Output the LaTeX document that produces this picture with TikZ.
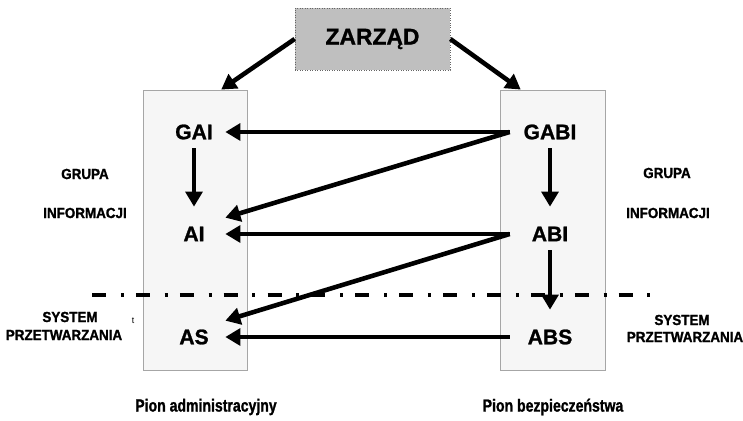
\documentclass[tikz,border=0pt]{standalone}
\usepackage{fontspec}
\setmainfont{Liberation Sans}[BoldFeatures={FakeBold=1.2}]
\newfontfamily\narrowfont[FakeStretch=0.8, FakeBold=1.2]{Liberation Sans Bold}
\newfontfamily\sidefont[FakeStretch=0.92, FakeBold=1.4]{Liberation Sans Bold}
\usetikzlibrary{arrows.meta,calc}

\begin{document}
\begin{tikzpicture}[
        x=0.02cm, y=-0.02cm,
        line cap=butt,
        line join=miter,
        arr/.style={line width=2.6pt, -{Triangle[length=8.5pt,width=9.5pt]}},
        pion/.style={draw=gray!70, fill=gray!7, line width=0.5pt, minimum width=2.08cm, minimum height=5.6cm, inner sep=0pt},
        lnode/.style={font=\fontsize{12}{14}\selectfont\bfseries, minimum width=1.24cm, minimum height=0.64cm, inner sep=0pt},
        rnode/.style={font=\fontsize{12}{14}\selectfont\bfseries, minimum width=1.6cm, minimum height=0.64cm, inner sep=0pt},
        side/.style={font=\fontsize{8.3}{9}\sidefont, inner sep=0pt},
        bottom/.style={font=\fontsize{10}{12}\narrowfont, inner sep=0pt}
    ]
        \useasboundingbox (0,0) rectangle (743,421);

        % boxes
        \node[draw=black!60, densely dotted, fill=black!25, minimum width=3.1cm, minimum height=1.24cm,
              font=\fontsize{13}{15}\selectfont\bfseries] (zarzad) at (372.5,39) {ZARZĄD};
        \node[pion] (adm) at (195,230) {};
        \node[pion, minimum width=2.1cm] (bez) at (552.5,230) {};

        % levels
        \node[lnode] (gai) at (194,132) {GAI};
        \node[lnode] (ai) at (194,234) {AI};
        \node[lnode] (as) at (194,337) {AS};

        \node[rnode] (gabi) at (550,132) {GABI};
        \node[rnode] (abi) at (550,234) {ABI};
        \node[rnode] (abs) at (550,337) {ABS};

        % side labels
        \node[side] (grl) at (85,174) {GRUPA};
        \node[side] (inl) at (85,213) {INFORMACJI};
        \node[side] (syl) at (70,317) {SYSTEM};
        \node[side] (prl) at (64,335) {PRZETWARZANIA};
        \node[font=\fontsize{5}{6}\selectfont, inner sep=0pt] (tl) at (133,321) {t};

        \node[side] (grr) at (667,173) {GRUPA};
        \node[side] (inr) at (668,213) {INFORMACJI};
        \node[side] (syr) at (682,320) {SYSTEM};
        \node[side] (prr) at (685,337) {PRZETWARZANIA};

        \node[bottom] (padm) at (206,407) {Pion administracyjny};
        \node[bottom] (pbez) at (553,407) {Pion bezpieczeństwa};

        % separator
        \draw[line width=2pt, dash pattern=on 7.97pt off 8.4pt on 1.71pt off 6.9pt] (92,295) -- (656,295);

        % connectors
        \draw[arr] (zarzad.west) -- ($(adm.north)!0.5!(adm.north east)$);
        \draw[arr] (zarzad.east) -- ($(bez.north)!0.6!(bez.north west)$);

        \draw[arr] (gabi.west) -- (gai.east);
        \draw[arr] (abi.west) -- (ai.east);
        \draw[arr] (abs.west) -- (as.east);
        \draw[arr] (gabi.west) -- (ai.north east);
        \draw[arr] (abi.west) -- (as.north east);

        \draw[arr, shorten >=0.22cm] (gai.south) -- (ai.north);
        \draw[arr, shorten >=0.22cm] (gabi.south) -- (abi.north);
        \draw[arr, shorten >=0.22cm] (abi.south) -- (abs.north);
    \end{tikzpicture}
\end{document}
